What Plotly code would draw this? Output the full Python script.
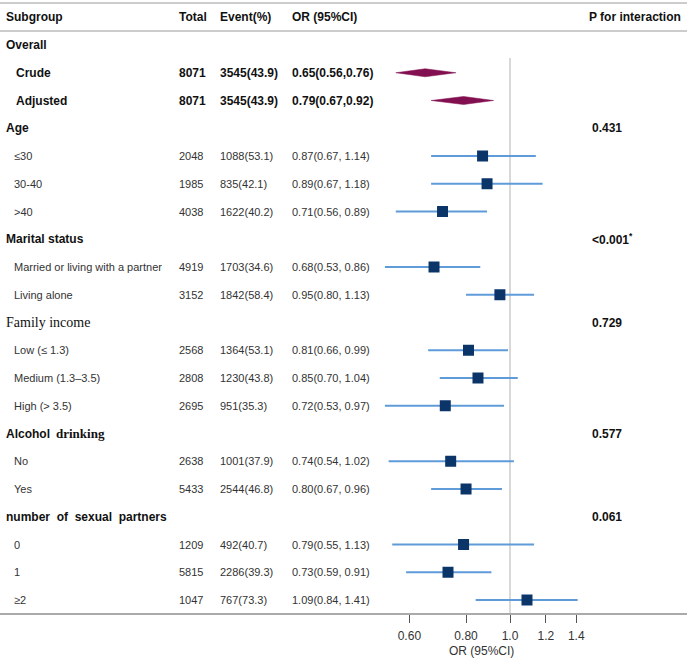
import math
import plotly.graph_objects as go

# ---------------- data ----------------
labels = ["Overall", "Crude", "Adjusted", "Age", "≤30", "30-40", ">40",
          "Marital status", "Married or living with a partner", "Living alone",
          "Family income", "Low (≤ 1.3)", "Medium (1.3–3.5)", "High (> 3.5)",
          "Alcohol drinking", "No", "Yes", "number of sexual partners", "0", "1", "≥2"]
totals = [None, 8071, 8071, None, 2048, 1985, 4038, None, 4919, 3152, None,
          2568, 2808, 2695, None, 2638, 5433, None, 1209, 5815, 1047]
event_n = [None, 3545, 3545, None, 1088, 835, 1622, None, 1703, 1842, None,
           1364, 1230, 951, None, 1001, 2544, None, 492, 2286, 767]
event_pct = [None, 43.9, 43.9, None, 53.1, 42.1, 40.2, None, 34.6, 58.4, None,
             53.1, 43.8, 35.3, None, 37.9, 46.8, None, 40.7, 39.3, 73.3]
or_est = [None, 0.65, 0.79, None, 0.87, 0.89, 0.71, None, 0.68, 0.95, None,
          0.81, 0.85, 0.72, None, 0.74, 0.80, None, 0.79, 0.73, 1.09]
or_lo = [None, 0.56, 0.67, None, 0.67, 0.67, 0.56, None, 0.53, 0.80, None,
         0.66, 0.70, 0.53, None, 0.54, 0.67, None, 0.55, 0.59, 0.84]
or_hi = [None, 0.76, 0.92, None, 1.14, 1.18, 0.89, None, 0.86, 1.13, None,
         0.99, 1.04, 0.97, None, 1.02, 0.96, None, 1.13, 0.91, 1.41]
p_int = [None, None, None, "0.431", None, None, None, "<0.001*", None, None,
         "0.729", None, None, None, "0.577", None, None, "0.061", None, None, None]
overall_rows = ["Crude", "Adjusted"]
tick_vals = [0.6, 0.8, 1.0, 1.2, 1.4]
tick_text = ["0.60", "0.80", "1.0", "1.2", "1.4"]
headers = ["Subgroup", "Total", "Event(%)", "OR (95%CI)", "P for interaction"]
x_title = "OR (95%CI)"

# ---------------- layout constants ----------------
W, H = 687, 659
SANS = "Liberation Sans, Arial, sans-serif"
SERIF = "Liberation Serif, Times New Roman, serif"
DARK = "#111111"
DATA_C = "#333333"
GRID = "#cccccc"

def px(x):
    return x / W

col_total, col_event, col_or, col_p = 177, 218, 290, 590

fig = go.Figure()
ann = []

n = len(labels)
rows = list(range(1, n + 1))

# header
ann.append(dict(x=px(4), y=0, text=f"<b>{headers[0]}</b>", xanchor="left"))
ann.append(dict(x=px(col_total), y=0, text=f"<b>{headers[1]}</b>", xanchor="left"))
ann.append(dict(x=px(col_event), y=0, text=f"<b>{headers[2]}</b>", xanchor="left"))
ann.append(dict(x=px(col_or), y=0, text=f"<b>{headers[3]}</b>", xanchor="left"))
ann.append(dict(x=px(683), y=0, text=f"<b>{headers[4]}</b>", xanchor="right"))
for a in ann:
    a["font"] = dict(family=SANS, size=12, color=DARK)

ci_x, ci_y = [], []
sq_x, sq_y = [], []
for i, r in enumerate(rows):
    lab = labels[i]
    is_group = totals[i] is None
    is_overall = lab in overall_rows
    if is_group:
        if lab == "Family income":
            ann.append(dict(x=px(4), y=r, text=lab, xanchor="left",
                            font=dict(family=SERIF, size=14, color=DARK)))
        elif lab == "Alcohol drinking":
            w1, w2 = lab.split(" ")
            ann.append(dict(x=px(4), y=r, text=f"<b>{w1}</b>", xanchor="left",
                            font=dict(family=SANS, size=12, color=DARK)))
            ann.append(dict(x=px(54), y=r, text=f"<b>{w2}</b>", xanchor="left",
                            font=dict(family=SERIF, size=13, color=DARK)))
        elif lab.startswith("number"):
            ann.append(dict(x=px(4), y=r, text="<b>" + lab.replace(" ", "\u00a0 ") + "</b>",
                            xanchor="left", font=dict(family=SANS, size=12, color=DARK)))
        else:
            ann.append(dict(x=px(4), y=r, text=f"<b>{lab}</b>", xanchor="left",
                            font=dict(family=SANS, size=12, color=DARK)))
    elif is_overall:
        f = dict(family=SANS, size=12, color=DARK)
        ann.append(dict(x=px(14), y=r, text=f"<b>{lab}</b>", xanchor="left", font=f))
        ann.append(dict(x=px(col_total), y=r, text=f"<b>{totals[i]}</b>", xanchor="left", font=f))
        ann.append(dict(x=px(col_event), y=r, text=f"<b>{event_n[i]}({event_pct[i]:.1f})</b>",
                        xanchor="left", font=f))
        ann.append(dict(x=px(col_or), y=r,
                        text=f"<b>{or_est[i]:.2f}({or_lo[i]:.2f},{or_hi[i]:.2f})</b>",
                        xanchor="left", font=f))
        # diamond
        hh = 0.145
        fig.add_trace(go.Scatter(
            x=[or_lo[i], or_est[i], or_hi[i], or_est[i], or_lo[i]],
            y=[r, r - hh, r, r + hh, r],
            mode="lines", fill="toself", fillcolor="#820f50",
            line=dict(color="#820f50", width=0.5), hoverinfo="skip", showlegend=False))
    else:
        f = dict(family=SANS, size=11, color=DATA_C)
        ann.append(dict(x=px(12), y=r, text=lab, xanchor="left", font=f))
        ann.append(dict(x=px(col_total), y=r, text=str(totals[i]), xanchor="left", font=f))
        ann.append(dict(x=px(col_event), y=r, text=f"{event_n[i]}({event_pct[i]:.1f})",
                        xanchor="left", font=f))
        ann.append(dict(x=px(col_or), y=r,
                        text=f"{or_est[i]:.2f}({or_lo[i]:.2f}, {or_hi[i]:.2f})",
                        xanchor="left", font=f))
        ci_x += [or_lo[i], or_hi[i], None]
        ci_y += [r, r, None]
        sq_x.append(or_est[i])
        sq_y.append(r)
    if p_int[i] is not None:
        t = p_int[i]
        if t.endswith("*"):
            t = t[:-1] + "<sup>*</sup>"
        ann.append(dict(x=px(col_p), y=r, text=f"<b>{t}</b>", xanchor="left",
                        font=dict(family=SANS, size=12, color=DARK)))

for a in ann:
    a.update(xref="paper", yref="y", yanchor="middle", showarrow=False)

fig.add_trace(go.Scatter(x=ci_x, y=ci_y, mode="lines",
                         line=dict(color="#5f9bd8", width=2),
                         hoverinfo="skip", showlegend=False))
fig.add_trace(go.Scatter(x=sq_x, y=sq_y, mode="markers",
                         marker=dict(symbol="square", size=11, color="#0b3568",
                                     line=dict(width=0)),
                         hoverinfo="skip", showlegend=False))

# geometry: row pitch 27.75 px, row 0 at 17.25 px from top, axis at 613 px
pitch, y0, axis_px = 27.75, 17.25, 613
y_top = (0 - y0) / pitch
y_bot = (axis_px - y0) / pitch

shapes = [
    dict(type="line", xref="paper", yref="y", x0=0, x1=1,
         y0=(3 - y0) / pitch, y1=(3 - y0) / pitch, line=dict(color=GRID, width=2)),
    dict(type="line", xref="paper", yref="y", x0=0, x1=1,
         y0=(31 - y0) / pitch, y1=(31 - y0) / pitch, line=dict(color=GRID, width=2)),
    dict(type="line", xref="x", yref="y", x0=1, x1=1,
         y0=(58 - y0) / pitch, y1=y_bot, line=dict(color=GRID, width=1.5), layer="below"),
]

# axis title as annotation centred under the tick labels
title_center_val = math.exp((481 - 510) / 197.0)
ann.append(dict(x=math.log10(title_center_val), xref="x", y=-(651 - axis_px) / axis_px,
                yref="paper", text=x_title, showarrow=False, xanchor="center",
                yanchor="middle", font=dict(family=SANS, size=12, color="#333333")))

x_left = math.log10(math.exp((0 - 510) / 197.0))
x_right = math.log10(math.exp((W - 510) / 197.0))

fig.update_layout(
    width=W, height=H,
    margin=dict(l=0, r=0, t=0, b=H - axis_px),
    paper_bgcolor="white", plot_bgcolor="white",
    annotations=ann, shapes=shapes,
    xaxis=dict(type="log", range=[x_left, x_right], domain=[0, 1],
               tickvals=tick_vals, ticktext=tick_text,
               ticks="outside", ticklen=8, tickwidth=1.3, tickcolor="#555555",
               ticklabelstandoff=3,
               showline=True, linecolor="#aaaaaa", linewidth=2,
               showgrid=False, zeroline=False,
               tickfont=dict(family=SANS, size=12, color="#333333")),
    yaxis=dict(range=[y_bot, y_top], showgrid=False, zeroline=False,
               showticklabels=False, showline=False, ticks=""),
)

fig.write_html("out.html")
